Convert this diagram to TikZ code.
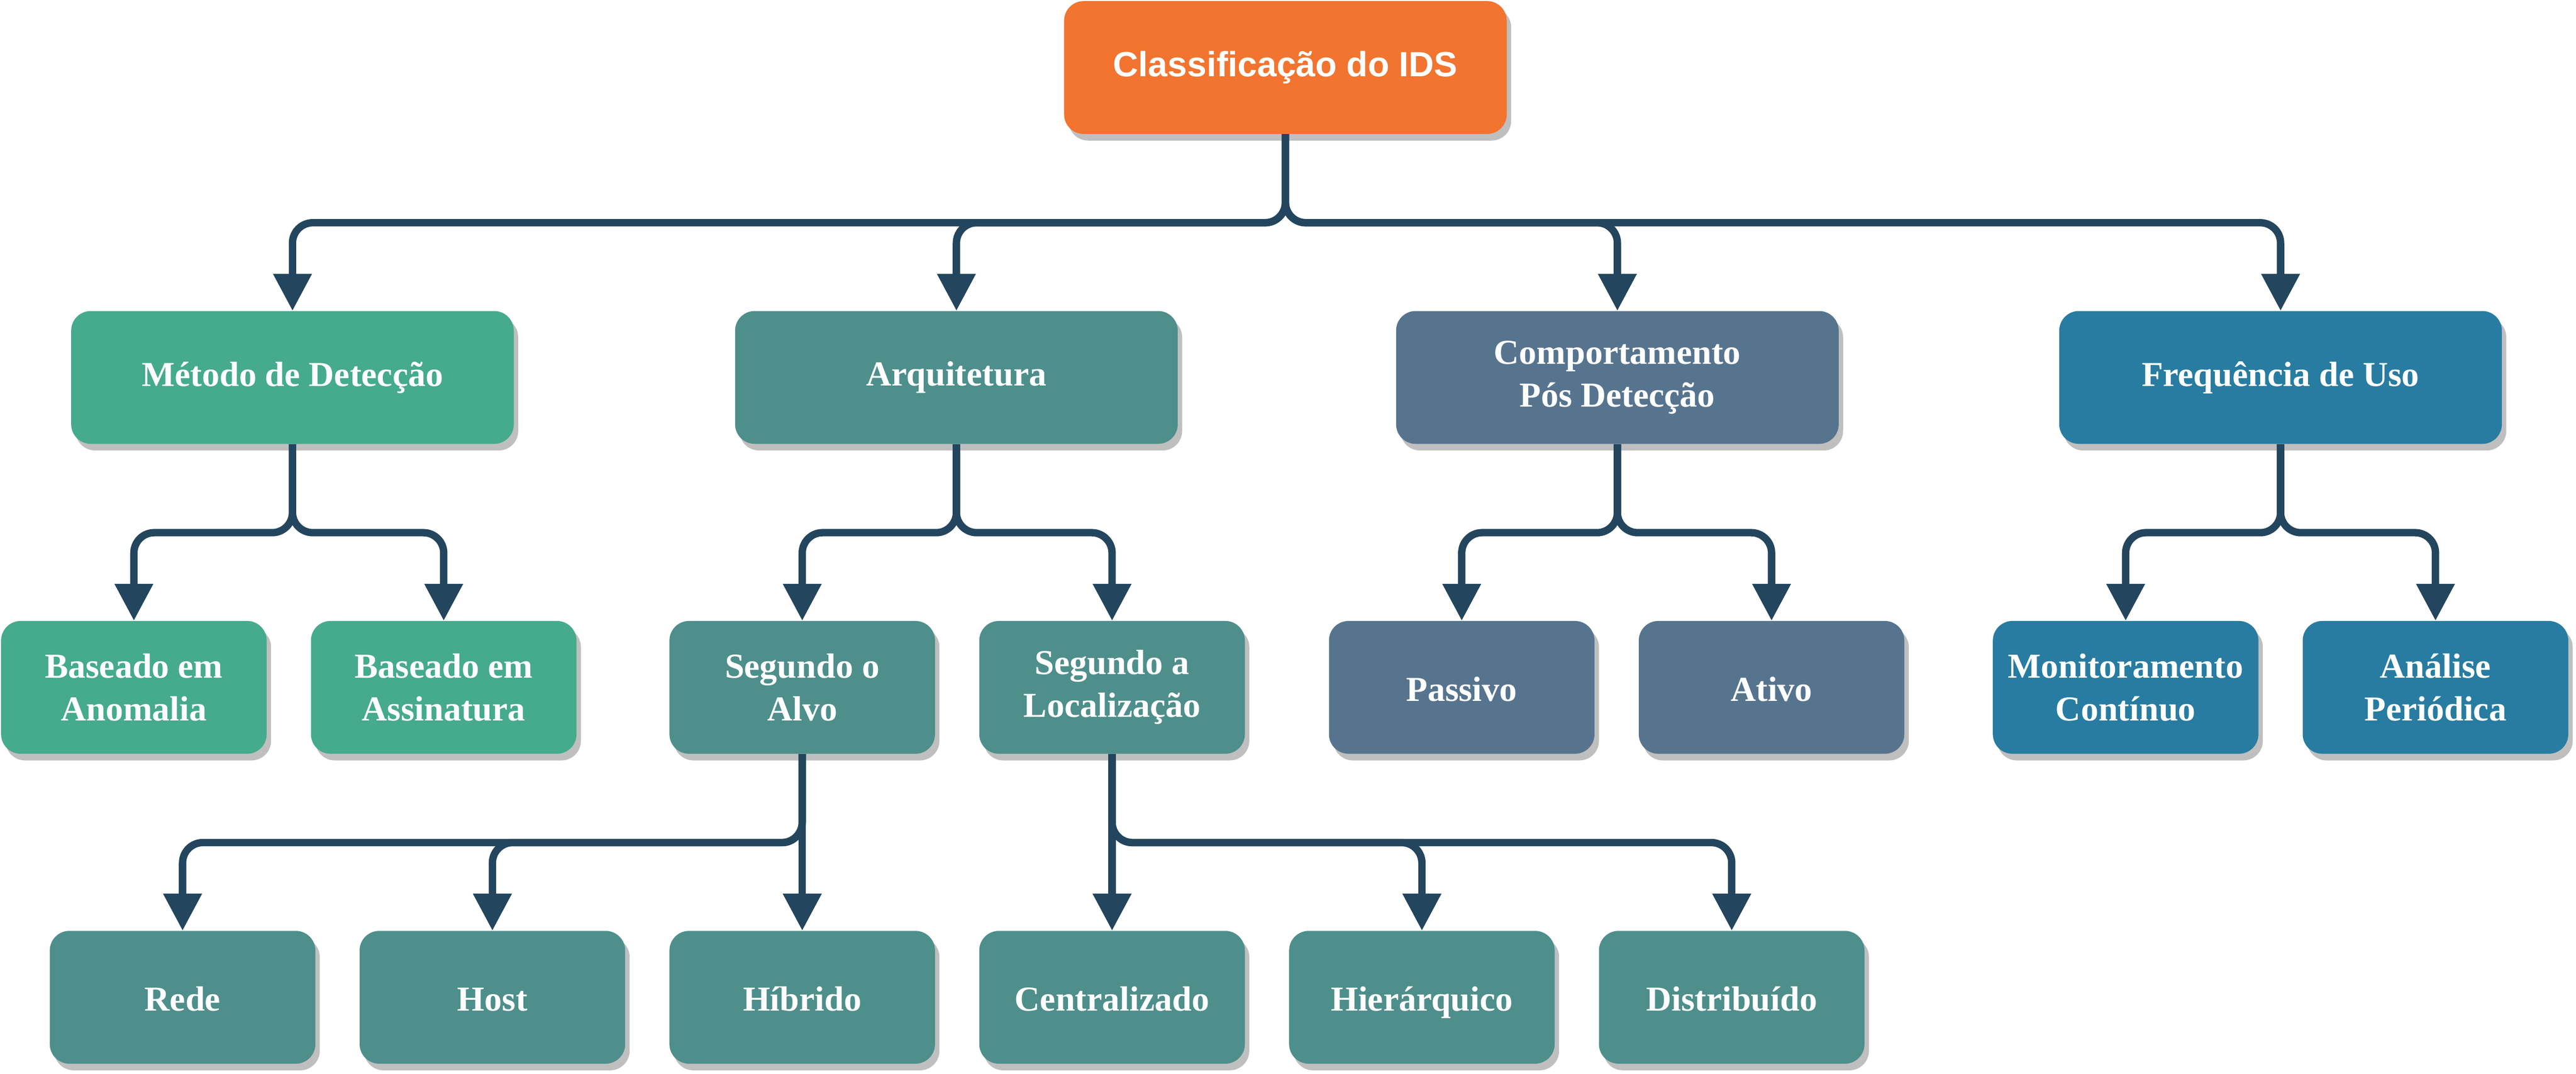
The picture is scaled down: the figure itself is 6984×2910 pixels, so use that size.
\documentclass[tikz,border=0pt]{standalone}
\usepackage{fontspec}
\setmainfont{Liberation Serif}
\newfontfamily\arialfont{Liberation Sans}
\usetikzlibrary{arrows.meta,shadows}

\definecolor{raiz}{HTML}{F2742F}
\definecolor{verde}{HTML}{45AB8C}
\definecolor{petroleo}{HTML}{4E8F8B}
\definecolor{ardosia}{HTML}{57748F}
\definecolor{azul}{HTML}{287CA1}
\definecolor{linha}{HTML}{23455E}
\definecolor{sombra}{HTML}{BFBFBF}

\tikzset{
  caixa/.style={rectangle, rounded corners=5.3mm, minimum height=36mm, inner sep=0pt,
    align=center, text=white, font=\fontsize{27}{33}\selectfont\bfseries,
    drop shadow={shadow xshift=1.2mm, shadow yshift=-1.8mm, fill=sombra, opacity=1}},
  larga/.style={caixa, minimum width=120mm},
  estreita/.style={caixa, minimum width=72mm},
  duas/.style={},
  uma/.style={text height=27pt, text depth=5.7pt},
  seta/.style={draw=linha, line width=2mm, rounded corners=5.5mm,
    -{Triangle[width=10mm, length=10mm]}}
}

\begin{document}
\begin{tikzpicture}[x=0.1mm, y=-0.1mm]
\useasboundingbox (0,0) rectangle (6984,2910);

\node[larga, fill=raiz, font=\arialfont\fontsize{27}{33}\selectfont\bfseries] (ids) at (3485,183) {Classificação do IDS};

\foreach \x/\nome/\cor/\texto in {
  793/met/verde/{Método de Detecção},
  2593/arq/petroleo/{Arquitetura},
  4385/comp/ardosia/{Comportamento\\Pós Detecção},
  6183/freq/azul/{Frequência de Uso}}
{
  \node[larga, fill=\cor] (\nome) at (\x,1023) {\texto};
  \draw[seta] (ids.south) -- ++(0,240) -| (\nome.north);
};

\foreach \x/\pai/\nome/\cor/\linhas/\texto in {
  363/met/anom/verde/duas/{Baseado em\\Anomalia},
  1203/met/assin/verde/duas/{Baseado em\\Assinatura},
  2175/arq/alvo/petroleo/duas/{Segundo o\\Alvo},
  3015/arq/local/petroleo/duas/{Segundo a\\Localização},
  3963/comp/pass/ardosia/uma/{Passivo},
  4803/comp/ativo/ardosia/uma/{Ativo},
  5763/freq/monit/azul/duas/{Monitoramento\\Contínuo},
  6603/freq/anal/azul/duas/{Análise\\Periódica}}
{
  \node[estreita, \linhas, fill=\cor] (\nome) at (\x,1863) {\texto};
  \draw[seta] (\pai.south) -- ++(0,240) -| (\nome.north);
};

\foreach \x/\nome/\texto in {
  495/rede/Rede, 1335/host/Host, 2175/hib/Híbrido,
  3015/cent/Centralizado, 3855/hier/Hierárquico, 4695/dist/Distribuído}
  \node[estreita, uma, fill=petroleo] (\nome) at (\x,2703) {\texto};

\foreach \pai/\nome in {alvo/rede, alvo/host, local/hier, local/dist}
  \draw[seta] (\pai.south) -- ++(0,240) -| (\nome.north);
\draw[seta] (alvo.south) -- (hib.north);
\draw[seta] (local.south) -- (cent.north);

\end{tikzpicture}
\end{document}
